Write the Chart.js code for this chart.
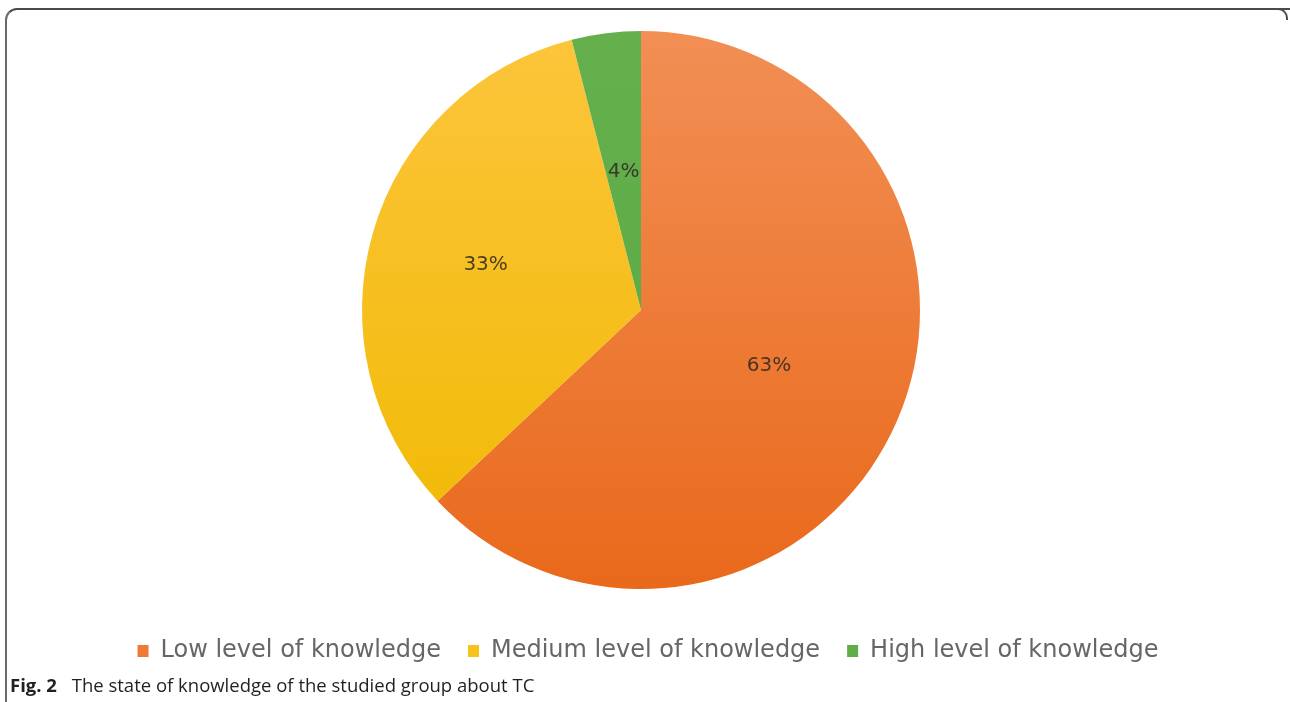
<!DOCTYPE html>
<html>
<head>
<meta charset="utf-8">
<script src="https://cdn.jsdelivr.net/npm/chart.js@4"></script>
<style>
  html, body { margin: 0; padding: 0; background: #fff; }
  #wrap { position: relative; width: 1290px; height: 702px; overflow: hidden; }
  #frame {
    position: absolute; left: 5px; top: 8px; width: 1290px; height: 700px;
    border-top: 2px solid #4a4a4a; border-left: 2px solid #6a6a6a;
    border-top-left-radius: 12px;
  }
  #corner {
    position: absolute; left: 1276px; top: 8px; width: 10px; height: 10px;
    border-top: 2px solid #4a4a4a; border-right: 2px solid #4a4a4a;
    border-top-right-radius: 10px;
  }
  #chartBox { position: absolute; left: 0; top: 0; width: 1290px; height: 702px; }
  #caption {
    position: absolute; left: 10px; top: 672px;
    font-family: "Open Sans", sans-serif; font-size: 18.5px; color: #231f20;
    white-space: nowrap;
  }
  #caption b { margin-right: 10px; }
</style>
</head>
<body>
<div id="wrap">
  <div id="frame"></div>
  <div id="corner"></div>
  <div id="chartBox"><canvas id="chart"></canvas></div>
  <div id="caption"><b>Fig. 2</b> The state of knowledge of the studied group about TC</div>
</div>
<script>
const categories = ["Low level of knowledge", "Medium level of knowledge", "High level of knowledge"];
const shares = [63, 33, 4];
const pctLabels = ["63%", "33%", "4%"];
const topColors = ["#f28f55", "#fcc53c", "#65b04c"];
const bottomColors = ["#e9691b", "#f0b900", "#58a843"];
const swatchColors = ["#ee7a35", "#f7c21a", "#5fae48"];

// vertical shading for each slice
function sliceFill(ctx) {
  const chart = ctx.chart;
  const area = chart.chartArea;
  const i = ctx.dataIndex;
  if (!area || i === undefined) return swatchColors[i] || "#ccc";
  const g = chart.ctx.createLinearGradient(0, 30, 0, 590);
  g.addColorStop(0, topColors[i]);
  g.addColorStop(1, bottomColors[i]);
  return g;
}

const sliceLabels = {
  id: "sliceLabels",
  afterDatasetsDraw(chart, args, opts) {
    const c = chart.ctx;
    const arcs = chart.getDatasetMeta(0).data;
    c.save();
    c.font = "20px 'DejaVu Sans'";
    c.fillStyle = "rgba(50,42,35,0.88)";
    c.textAlign = "center";
    c.textBaseline = "middle";
    arcs.forEach((arc, i) => {
      const p = arc.getProps(["x", "y", "startAngle", "endAngle", "outerRadius"], true);
      const mid = (p.startAngle + p.endAngle) / 2;
      const r = p.outerRadius * opts.dist[i];
      c.fillText(pctLabels[i], p.x + Math.cos(mid) * r, p.y + Math.sin(mid) * r);
    });
    c.restore();
  }
};

// nudge the legend a little right of the pie's centre line
const legendShift = {
  id: "legendShift",
  afterLayout(chart, args, opts) {
    if (chart.legend) {
      chart.legend.left += opts.dx;
      chart.legend.right += opts.dx;
    }
  }
};

new Chart(document.getElementById("chart"), {
  type: "pie",
  data: {
    labels: categories,
    datasets: [{
      data: shares,
      backgroundColor: sliceFill,
      borderWidth: 0,
      radius: 279
    }]
  },
  options: {
    responsive: true,
    maintainAspectRatio: false,
    animation: false,
    layout: { padding: { top: 8, right: 8, bottom: 29, left: 0 } },
    plugins: {
      tooltip: { enabled: false },
      sliceLabels: { dist: [0.5, 0.58, 0.5] },
      legendShift: { dx: 7 },
      legend: {
        position: "bottom",
        labels: {
          font: { family: "'DejaVu Sans'", size: 24 },
          color: "#666666",
          boxWidth: 11,
          boxHeight: 12,
          padding: 27,
          generateLabels(chart) {
            return categories.map((name, i) => ({
              text: name,
              fillStyle: swatchColors[i],
              strokeStyle: swatchColors[i],
              lineWidth: 0,
              fontColor: "#666666",
              index: i
            }));
          }
        }
      }
    }
  },
  plugins: [sliceLabels, legendShift]
});
</script>
</body>
</html>
